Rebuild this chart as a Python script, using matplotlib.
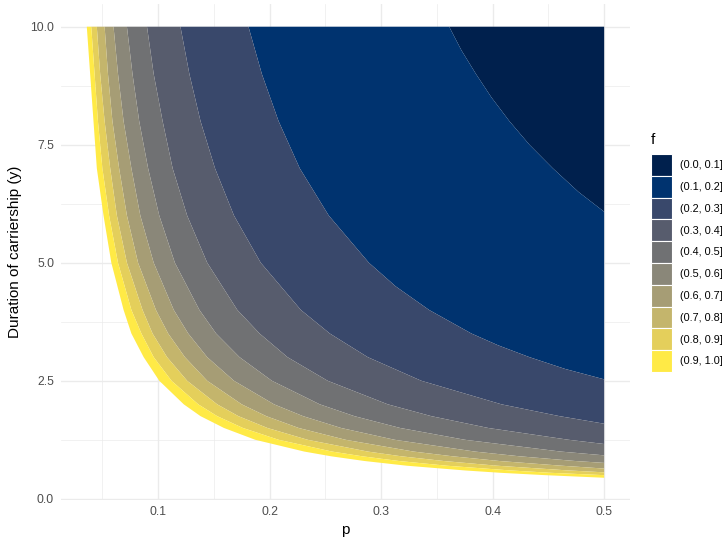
import matplotlib.pyplot as plt
from matplotlib.patches import Patch

plt.rcParams['font.family'] = ['Liberation Sans', 'DejaVu Sans']

# --- DATA ---
# bins of f and their colours (cividis, 10 steps)
labels = ['(0.0, 0.1]', '(0.1, 0.2]', '(0.2, 0.3]', '(0.3, 0.4]', '(0.4, 0.5]',
          '(0.5, 0.6]', '(0.6, 0.7]', '(0.7, 0.8]', '(0.8, 0.9]', '(0.9, 1.0]']
colors = ['#00204D', '#00336F', '#39486B', '#575C6D', '#707173',
          '#8A8779', '#A69D75', '#C4B56C', '#E4CF5B', '#FFEA46']

P_MAX = 0.5
Y_MAX = 10.0

# contour lines f = 0.1 ... 1.0, as (p, y) points
p_f01 = [0.361, 0.372, 0.385, 0.399, 0.415, 0.433, 0.454, 0.477, 0.5]
y_f01 = [10, 9.5, 9, 8.5, 8, 7.5, 7, 6.5, 6.08]

p_f02 = [0.181, 0.193, 0.208, 0.227, 0.253, 0.289, 0.313, 0.343, 0.381, 0.405, 0.433,
         0.465, 0.5]
y_f02 = [10, 9, 8, 7, 6, 5, 4.5, 4, 3.5, 3.25, 3, 2.75, 2.53]

p_f03 = [0.120, 0.128, 0.138, 0.151, 0.168, 0.192, 0.228, 0.254, 0.288, 0.336, 0.408, 0.460, 0.5]
y_f03 = [10, 9, 8, 7, 6, 5, 4, 3.5, 3, 2.5, 2, 1.75, 1.59]

p_f04 = [0.090, 0.096, 0.104, 0.113, 0.126, 0.144, 0.171, 0.191, 0.216, 0.252, 0.306,
         0.345, 0.396, 0.468, 0.5]
y_f04 = [10, 9, 8, 7, 6, 5, 4, 3.5, 3, 2.5, 2, 1.75, 1.5, 1.25, 1.16]

p_f05 = [0.072, 0.077, 0.083, 0.091, 0.101, 0.115, 0.137, 0.152, 0.173, 0.202, 0.245,
         0.276, 0.317, 0.375, 0.461, 0.5]
y_f05 = [10, 9, 8, 7, 6, 5, 4, 3.5, 3, 2.5, 2, 1.75, 1.5, 1.25, 1.0, 0.92]

p_f06 = [0.060, 0.064, 0.069, 0.076, 0.084, 0.096, 0.114, 0.127, 0.144, 0.168, 0.204,
         0.230, 0.264, 0.312, 0.384, 0.424, 0.474, 0.5]
y_f06 = [10, 9, 8, 7, 6, 5, 4, 3.5, 3, 2.5, 2, 1.75, 1.5, 1.25, 1.0, 0.9, 0.8, 0.76]

p_f07 = [0.052, 0.055, 0.059, 0.065, 0.072, 0.082, 0.098, 0.109, 0.124, 0.144, 0.175,
         0.197, 0.226, 0.268, 0.329, 0.364, 0.406, 0.462, 0.5]
y_f07 = [10, 9, 8, 7, 6, 5, 4, 3.5, 3, 2.5, 2, 1.75, 1.5, 1.25, 1.0, 0.9, 0.8, 0.7, 0.64]

p_f08 = [0.045, 0.048, 0.052, 0.057, 0.063, 0.072, 0.086, 0.095, 0.108, 0.126, 0.153,
         0.172, 0.198, 0.234, 0.288, 0.318, 0.356, 0.404, 0.468, 0.5]
y_f08 = [10, 9, 8, 7, 6, 5, 4, 3.5, 3, 2.5, 2, 1.75, 1.5, 1.25, 1.0, 0.9, 0.8, 0.7, 0.6, 0.56]

p_f09 = [0.040, 0.043, 0.046, 0.050, 0.056, 0.064, 0.076, 0.085, 0.096, 0.112, 0.136,
         0.153, 0.176, 0.208, 0.256, 0.283, 0.316, 0.359, 0.416, 0.452, 0.5]
y_f09 = [10, 9, 8, 7, 6, 5, 4, 3.5, 3, 2.5, 2, 1.75, 1.5, 1.25, 1.0, 0.9, 0.8, 0.7, 0.6,
         0.55, 0.50]

p_f10 = [0.036, 0.039, 0.042, 0.045, 0.051, 0.058, 0.069, 0.076, 0.087, 0.101, 0.123,
         0.138, 0.159, 0.187, 0.231, 0.255, 0.285, 0.323, 0.375, 0.407, 0.447, 0.5]
y_f10 = [10, 9, 8, 7, 6, 5, 4, 3.5, 3, 2.5, 2, 1.75, 1.5, 1.25, 1.0, 0.9, 0.8, 0.7, 0.6,
         0.55, 0.5, 0.445]

bounds = [(p_f01, y_f01), (p_f02, y_f02), (p_f03, y_f03), (p_f04, y_f04), (p_f05, y_f05),
          (p_f06, y_f06), (p_f07, y_f07), (p_f08, y_f08), (p_f09, y_f09), (p_f10, y_f10)]

# --- GRAFICO ---
fig = plt.figure(figsize=(7.24, 5.37), dpi=100)
ax = fig.add_axes([0.0843, 0.0683, 0.7859, 0.924])

# band (0.0, 0.1]: everything beyond the 0.1 line
ax.fill(p_f01 + [P_MAX], y_f01 + [Y_MAX], color=colors[0], lw=0)
for i in range(1, 10):
    pu, yu = bounds[i - 1]
    pl, yl = bounds[i]
    ax.fill(pl + pu[::-1], yl + yu[::-1], color=colors[i], lw=0)

ax.set_xlim(0.0129, 0.5232)
ax.set_ylim(-0.033, 10.478)

ax.set_xticks([0.1, 0.2, 0.3, 0.4, 0.5])
ax.set_xticklabels(['0.1', '0.2', '0.3', '0.4', '0.5'])
ax.set_xticks([0.05, 0.15, 0.25, 0.35, 0.45], minor=True)
ax.set_yticks([0, 2.5, 5, 7.5, 10])
ax.set_yticklabels(['0.0', '2.5', '5.0', '7.5', '10.0'])
ax.set_yticks([1.25, 3.75, 6.25, 8.75], minor=True)

ax.set_axisbelow(True)
ax.grid(which='major', color='#EBEBEB', lw=1.0)
ax.grid(which='minor', color='#EBEBEB', lw=0.5)
for s in ax.spines.values():
    s.set_visible(False)
ax.tick_params(which='both', length=0, labelsize=8.8, labelcolor='#4D4D4D')
ax.tick_params(axis='x', pad=4)
ax.tick_params(axis='y', pad=5)

ax.set_xlabel('p', fontsize=11, labelpad=4)
ax.set_ylabel('Duration of carriership (y)', fontsize=11, labelpad=6)

# legend
fig.text(651 / 724, 1 - 140 / 537, 'f', fontsize=11, ha='left', va='center')
handles = [Patch(facecolor=c, edgecolor='white', lw=0.8) for c in colors]
fig.legend(handles, labels, loc='upper left', bbox_to_anchor=(651 / 724, 1 - 154 / 537),
           frameon=False, fontsize=7.8, borderpad=0, borderaxespad=0, labelspacing=0,
           handlelength=1.94, handleheight=2.72, handletextpad=0.74)

plt.savefig('out.png')
